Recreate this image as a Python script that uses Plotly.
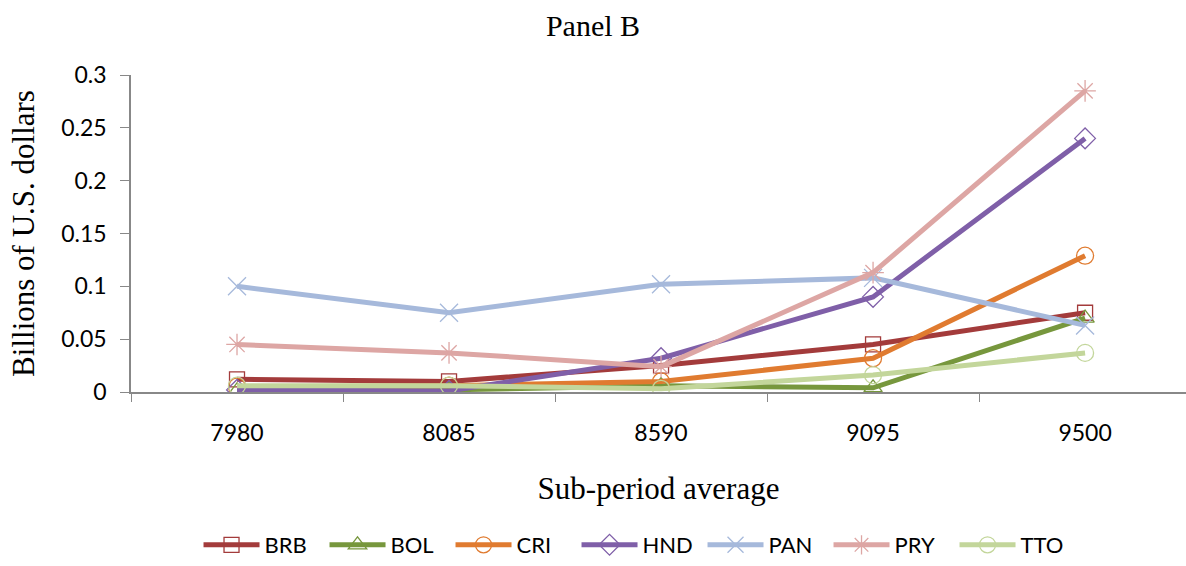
import plotly.graph_objects as go

periods = ['7980', '8085', '8590', '9095', '9500']
brb = [0.012, 0.010, 0.025, 0.045, 0.075]
bol = [0.001, 0.002, 0.006, 0.004, 0.070]
cri = [0.005, 0.006, 0.010, 0.032, 0.129]
hnd = [0.002, 0.001, 0.032, 0.090, 0.240]
pan = [0.100, 0.075, 0.102, 0.108, 0.063]
pry = [0.045, 0.037, 0.024, 0.113, 0.285]
tto = [0.006, 0.006, 0.003, 0.016, 0.037]

series = [
    ('BRB', brb, '#A33B3B', 'square-open', 15),
    ('BOL', bol, '#77973D', 'triangle-up-open', 16),
    ('CRI', cri, '#E07B30', 'circle-open', 17),
    ('HND', hnd, '#7F5FA8', 'diamond-open', 16),
    ('PAN', pan, '#A6B9DB', 'x-thin-open', 18),
    ('PRY', pry, '#DDA6A4', 'asterisk-open', 18),
    ('TTO', tto, '#C3D69B', 'circle-open', 17),
]

fig = go.Figure()
for name, vals, col, sym, sz in series:
    fig.add_trace(go.Scatter(x=periods, y=vals, name=name, mode='lines+markers',
                             line=dict(color=col, width=5),
                             marker=dict(symbol=sym, size=sz, color=col,
                                         line=dict(color=col, width=1.3))))

fig.update_layout(
    width=1186, height=566,
    plot_bgcolor='white', paper_bgcolor='white',
    margin=dict(l=131, r=0, t=75, b=172),
    title=dict(text='Panel B', x=0.5, xanchor='center', y=1 - 25 / 566, yanchor='middle',
               font=dict(family='Liberation Serif', size=30, color='black')),
    legend=dict(orientation='h', x=0.064, xanchor='left', y=-0.483, yanchor='middle',
                font=dict(family='Lato', size=22, color='black'),
                itemwidth=56, entrywidth=55, tracegroupgap=0),
    showlegend=True,
)
fig.update_xaxes(type='category', range=[-0.5, 4.476], tickson='boundaries',
                 showline=True, linecolor='#888', linewidth=1.5,
                 ticks='outside', ticklen=8, tickcolor='#888', automargin=False,
                 ticklabelstandoff=20,
                 tickfont=dict(family='Lato', size=23, color='black'),
                 title=dict(text='Sub-period average', standoff=32,
                            font=dict(family='Liberation Serif', size=31, color='black')))
fig.update_yaxes(range=[0, 0.3], dtick=0.05, tickformat='.2~f', showgrid=False, zeroline=False,
                 showline=True, linecolor='#888', linewidth=1.5, automargin=False,
                 ticks='outside', ticklen=9, tickcolor='#888', ticklabelstandoff=9,
                 tickfont=dict(family='Lato', size=23, color='black'),
                 title=dict(text='Billions of U.S. dollars', standoff=17,
                            font=dict(family='Liberation Serif', size=31, color='black')))

# drop the default 8px page margin so the figure fills the window exactly
fig.write_html('out.html', config={'displayModeBar': False},
               post_script="document.body.style.margin='0';")
